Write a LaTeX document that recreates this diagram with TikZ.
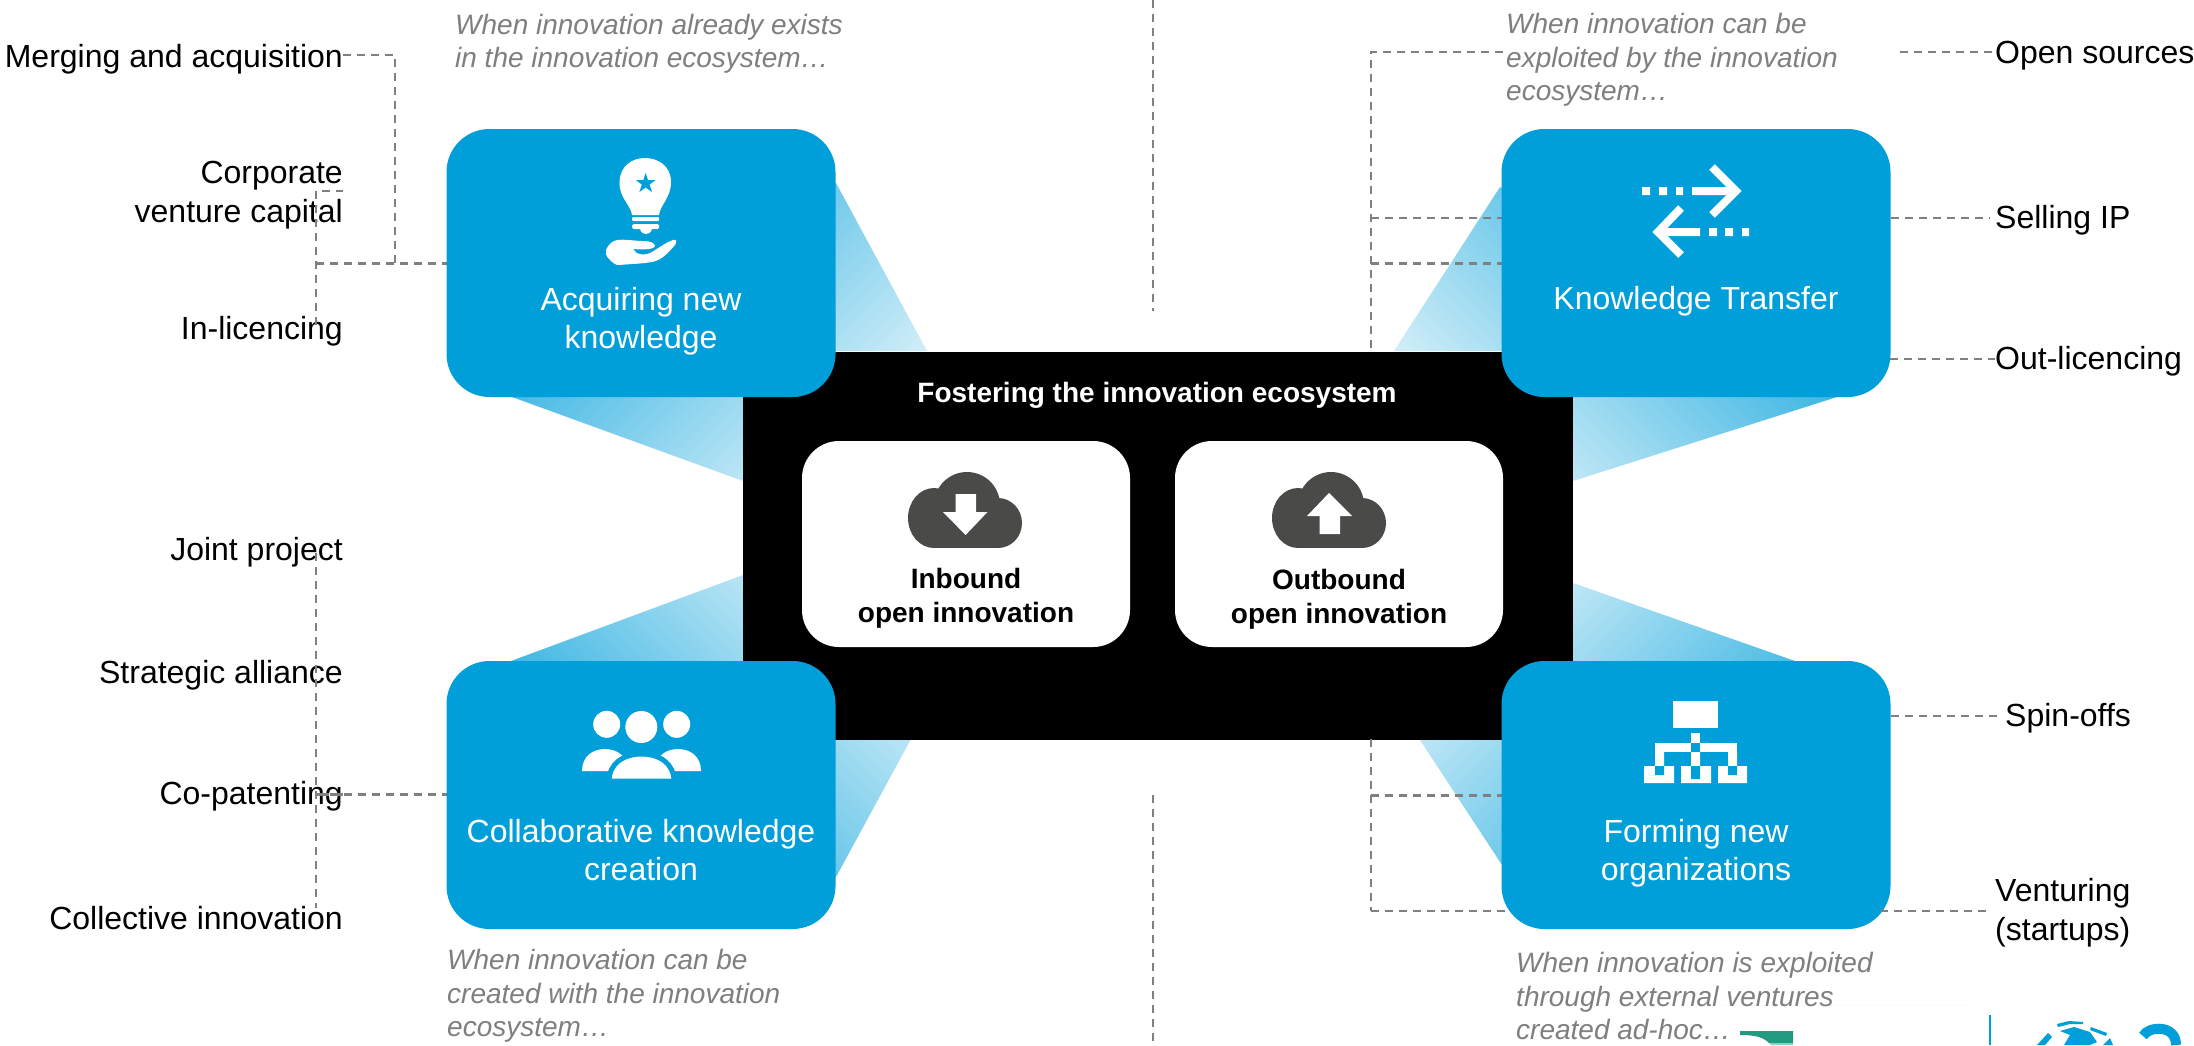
\documentclass[tikz,border=0pt]{standalone}
\usepackage{fontspec}
\setmainfont{Liberation Sans}
\definecolor{bxblue}{HTML}{009FDA}
\definecolor{dashgray}{HTML}{808080}
\definecolor{notegray}{HTML}{7F7F7F}
\definecolor{clouddark}{HTML}{4A4A48}
\definecolor{tealmark}{HTML}{229A82}
\tikzset{
  labeltext/.style={inner sep=0pt,text=black,font=\fontsize{32}{39}\selectfont},
  lblright/.style={labeltext,anchor=base east,align=right},
  lblleft/.style={labeltext,anchor=base west,align=left},
  notetext/.style={inner sep=0pt,anchor=base west,align=left,text=notegray,font=\fontsize{28}{33.5}\selectfont\itshape},
  titletext/.style={inner sep=0pt,anchor=base,align=center,text=white,font=\fontsize{32}{38.5}\selectfont},
  boldtext/.style={inner sep=0pt,anchor=base,align=center,font=\fontsize{28}{34}\selectfont\bfseries},
  bluebox/.style={rectangle,fill=bxblue,rounded corners=43pt,minimum width=389pt,minimum height=268pt,inner sep=0pt},
  whitebox/.style={rectangle,fill=white,rounded corners=37pt,minimum width=328pt,minimum height=206pt,inner sep=0pt},
  dsh/.style={draw=dashgray,line width=2pt,dash pattern=on 8pt off 6pt},
  dshthick/.style={dsh,line width=3pt},
  iconw/.style={fill=white,draw=none},
  iconline/.style={draw=white,line width=8pt},
}
\newcommand{\fanfill}[4]{% centre x, centre y, angle, polygon
  \begin{scope}
    \clip #4;
    \shade[top color=bxblue,bottom color=white,shading angle=#3] (#1-240,#2-240) rectangle (#1+240,#2+240);
  \end{scope}}
\begin{document}
\begin{tikzpicture}[x=1pt,y=-1pt]
\useasboundingbox (0,0) rectangle (2194,1045);
\fill[white] (0,0) rectangle (2194,1045);
\draw[draw=black!2,line width=1pt] (1720,1005) -- (1970,1005);

% gradient fans
\fanfill{712}{348}{45}{(836,183) -- (927,351) -- (743,351) -- (743,481) -- (512,397) -- (447,300) -- (640,200) -- cycle}
\fanfill{1611}{348}{-45}{(1500,187) -- (1394,351) -- (1573,351) -- (1573,481) -- (1837,397) -- (1700,300) -- cycle}
\fanfill{726}{710}{135}{(511,661) -- (743,575) -- (743,739) -- (911,739) -- (836,877) -- (640,800) -- cycle}
\fanfill{1611}{710}{225}{(1795,661) -- (1573,583) -- (1573,739) -- (1420,740) -- (1502,865) -- (1700,800) -- cycle}

% named points
\coordinate (cTop1) at (1152.5,0);
\coordinate (cTop2) at (1152.5,311);
\coordinate (cBot1) at (1152.5,795);
\coordinate (cBot2) at (1152.5,1045);
\coordinate (jM1) at (395,55);
\coordinate (jM2) at (395,263);
\coordinate (jT1) at (316,191);
\coordinate (jT2) at (316,325);
\coordinate (jT3) at (316,263);
\coordinate (jB1) at (316,553);
\coordinate (jB2) at (316,908);
\coordinate (jB3) at (316,794);
\coordinate (rT1) at (1371,52);
\coordinate (rT2) at (1371,351);
\coordinate (rT3) at (1371,218);
\coordinate (rT4) at (1371,263);
\coordinate (rT5) at (1503,52);
\coordinate (rB1) at (1371,739);
\coordinate (rB2) at (1371,911);
\coordinate (rB3) at (1371,795);

% labels
\node[lblright] (lMerg) at (343,67) {Merging and acquisition};
\node[lblright] (lCorp) at (343,222.5) {Corporate\\venture capital};
\node[lblright] (lInl) at (343,339) {In-licencing};
\node[lblright] (lJoint) at (343,560) {Joint project};
\node[lblright] (lStrat) at (343,683) {Strategic alliance};
\node[lblright] (lCopat) at (343,804) {Co-patenting};
\node[lblright] (lColl) at (343,929) {Collective innovation};
\node[lblleft] (lOpen) at (1995,63) {Open sources};
\node[lblleft] (lSell) at (1995,228) {Selling IP};
\node[lblleft] (lOut) at (1995,369) {Out-licencing};
\node[lblleft] (lSpin) at (2005,726) {Spin-offs};
\node[lblleft] (lVent) at (1995,940) {Venturing\\(startups)};

% notes
\node[notetext] (nTL) at (455,67.5) {When innovation already exists\\in the innovation ecosystem…};
\node[notetext] (nTR) at (1506,100.5) {When innovation can be\\exploited by the innovation\\ecosystem…};
\node[notetext] (nBL) at (447,1036.5) {When innovation can be\\created with the innovation\\ecosystem…};
\node[notetext] (nBR) at (1516,1039.5) {When innovation is exploited\\through external ventures\\created ad-hoc…};

% centre dashes
\draw[dsh] (cTop1) -- (cTop2);
\draw[dsh] (cBot1) -- (cBot2);

% black panel
\node[fill=black,inner sep=0pt,minimum width=830pt,minimum height=388pt] (panel) at (1158,545.5) {};

% dashed trunks
\coordinate (tCorp) at (343,191);
\coordinate (tCopat) at (343,794);
\coordinate (tSellL) at (1371,218);
\draw[dsh] (lMerg.east |- jM1) -- (jM1) -- (jM2);
\draw[dsh] (jT2) -- (jT1) -- (tCorp);
\draw[dsh] (jB1) -- (jB2);
\draw[dsh] (rT5) -- (rT1) -- (rT2);
\draw[dsh] (rB1) -- (rB2);
\coordinate (rOpen) at (1900,52);
\coordinate (rOpenEnd) at (1995,52);
\draw[dsh] (rOpen) -- (rOpenEnd);

% blue boxes
\draw[dshthick] (jT3) -- (447,263);
\draw[dshthick] (jB3) -- (447,794);
\draw[dshthick] (tCopat) -- (jB3);
\draw[dsh] (rT3) -- (1502,218);
\draw[dshthick] (rT4) -- (1502,263);
\draw[dshthick] (rB3) -- (1502,795);
\draw[dsh] (rB2) -- (1510,911);
\node[bluebox] (bTL) at (641,263) {};
\node[bluebox] (bTR) at (1696,263) {};
\node[bluebox] (bBL) at (641,795) {};
\node[bluebox] (bBR) at (1696,795) {};

\coordinate (aSell) at (1891,218);\coordinate (eSell) at (1990,218);
\coordinate (aOut) at (1890,359);\coordinate (eOut) at (1995,359);
\coordinate (aSpin) at (1891,716);\coordinate (eSpin) at (1997,716);
\coordinate (aVent) at (1880,911);\coordinate (eVent) at (1990,911);
\draw[dsh] (aSell) -- (eSell);
\draw[dsh] (aOut) -- (eOut);
\draw[dsh] (aSpin) -- (eSpin);
\draw[dsh] (aVent) -- (eVent);

% titles
\node[titletext] (tTL) at (641,348.5) {Acquiring new\\knowledge};
\node[titletext] (tTR) at (1696,309.5) {Knowledge Transfer};
\node[titletext] (tBL) at (641,880.5) {Collaborative knowledge\\creation};
\node[titletext] (tBR) at (1696,880.5) {Forming new\\organizations};
\node[boldtext,text=white] (tPanel) at (1157,402) {Fostering the innovation ecosystem};

% white boxes
\node[whitebox] (wIn) at (966,544) {};
\node[whitebox] (wOut) at (1339,544) {};
\node[boldtext] (tIn) at (966,622.5) {Inbound\\open innovation};
\node[boldtext] (tOut) at (1339,623.5) {Outbound\\open innovation};

% clouds
\begin{scope}
  \fill[clouddark] (934,518) ellipse (26 and 30);
  \fill[clouddark] (998,523) ellipse (24 and 25);
  \fill[clouddark] (967,505) ellipse (33 and 33);
  \fill[clouddark] (934,510) rectangle (998,548);
  \fill[white] (955.5,494) -- (976,494) -- (976,512) -- (987.5,512) -- (965.6,535) -- (943,512) -- (955.5,512) -- cycle;
\end{scope}
\begin{scope}[xshift=364pt]
  \fill[clouddark] (934,518) ellipse (26 and 30);
  \fill[clouddark] (998,523) ellipse (24 and 25);
  \fill[clouddark] (967,505) ellipse (33 and 33);
  \fill[clouddark] (934,510) rectangle (998,548);
\end{scope}
\fill[white] (1319.5,534) -- (1340,534) -- (1340,516) -- (1352,516) -- (1329,493) -- (1307,516) -- (1319.5,516) -- cycle;

% bulb icon
\fill[iconw] (632,215) .. controls (631,205) and (619,198) .. (619.5,182)
  .. controls (620,166) and (632,158) .. (645,158)
  .. controls (658,158) and (671,166) .. (671,182)
  .. controls (671,198) and (660,205) .. (659,215) -- cycle;
\fill[iconw,rounded corners=1pt] (632,217) rectangle (659,221);
\fill[iconw,rounded corners=1.5pt] (632,224) rectangle (659,229);
\fill[iconw] (640,229) -- (652,229) .. controls (651,233) and (648,234) .. (646,234) .. controls (644,234) and (641,233) .. (640,229) -- cycle;
\fill[bxblue] (645.7,173) -- (648,180) -- (655.6,180) -- (649.6,184.5) -- (652,192) -- (645.7,187.5) -- (639.4,192) -- (641.8,184.5) -- (635.8,180) -- (643.4,180) -- cycle;
\fill[iconw] (606,250) .. controls (608,245) and (612,241) .. (617,240)
  .. controls (625,239) and (635,241) .. (643,241)
  .. controls (650,241) and (655,243) .. (655,246)
  .. controls (655,249) and (645,250) .. (633,249)
  .. controls (636,255) and (645,256) .. (652,252)
  .. controls (660,247) and (667,242) .. (673,240)
  .. controls (677,239) and (677,242) .. (675,245)
  .. controls (668,253) and (662,260) .. (652,262)
  .. controls (640,264) and (628,264) .. (620,265)
  .. controls (616,266) and (612,262) .. (609,259)
  .. controls (606,256) and (605,253) .. (606,250) -- cycle;

% arrows icon
\fill[iconw] (1642,187) rectangle (1650,195) (1659,187) rectangle (1667,195) (1676,187) rectangle (1683,195) (1692,187) rectangle (1735,195);
\draw[iconline,line join=miter] (1712,167) -- (1736,191) -- (1712,215);
\fill[iconw] (1709,228) rectangle (1717,236) (1725,228) rectangle (1733,236) (1742,228) rectangle (1749,236) (1660,228) rectangle (1700,236);
\draw[iconline,line join=miter] (1681,208) -- (1658,232) -- (1681,255);

% people icon
\fill[iconw] (606.7,724.3) circle (13.5) (676.7,724.3) circle (13.5) (641.3,727) circle (16);
\fill[iconw] (582,771) .. controls (582,757) and (592,749) .. (605,749) .. controls (618,749) and (628,757) .. (628,771) -- cycle;
\fill[iconw] (655,771) .. controls (655,757) and (665,749) .. (678,749) .. controls (691,749) and (701,757) .. (701,771) -- cycle;
\filldraw[fill=white,draw=bxblue,line width=5pt] (609,781) .. controls (609,764) and (623,754) .. (641.5,754) .. controls (660,754) and (674,764) .. (674,781) -- cycle;

% org icon
\fill[iconw] (1673,701) rectangle (1718,728);
\fill[iconw] (1691,733) rectangle (1700,743);
\fill[iconw] (1655,743) rectangle (1737,752);
\fill[bxblue] (1691,743) rectangle (1700,752);
\fill[iconw] (1655,752) rectangle (1664,766) (1728,752) rectangle (1737,766) (1691,752) rectangle (1700,766);
\fill[iconw] (1644,766) rectangle (1674,783) (1681,766) rectangle (1711,783) (1718,766) rectangle (1747,783);
\fill[bxblue] (1655,766) rectangle (1664,775) (1691,766) rectangle (1700,779) (1728,766) rectangle (1737,775);

% cropped marks at the bottom edge
\fill[tealmark] (1740,1031) -- (1793,1031) -- (1793,1043) -- (1769,1043) .. controls (1763,1037) and (1755,1035) .. (1740,1035) -- cycle;
\fill[tealmark!50] (1769,1043) -- (1793,1043) -- (1793,1045) -- (1771,1045) -- cycle;
\draw[bxblue,line width=2pt] (1990,1015) -- (1990,1045);
\fill[bxblue] (2057,1024) -- (2069,1021) -- (2083,1022) -- (2083,1024) -- (2070,1024) -- (2058,1027) -- cycle;
\fill[bxblue] (2060,1031) -- (2074,1027) -- (2090,1032) -- (2097,1042) -- (2090,1045) -- (2064,1045) -- (2070,1035) -- cycle;
\fill[bxblue] (2091,1027) -- (2107,1033) -- (2106,1036) -- (2090,1030) -- cycle;
\fill[bxblue] (2037,1045) -- (2048,1033) -- (2052,1037) -- (2045,1045) -- cycle;
\fill[bxblue] (2103,1045) -- (2110,1038) -- (2113,1045) -- cycle;
\draw[bxblue,line width=10pt] (2143,1036) .. controls (2148,1026) and (2176,1024) .. (2176,1045);
\end{tikzpicture}
\end{document}
